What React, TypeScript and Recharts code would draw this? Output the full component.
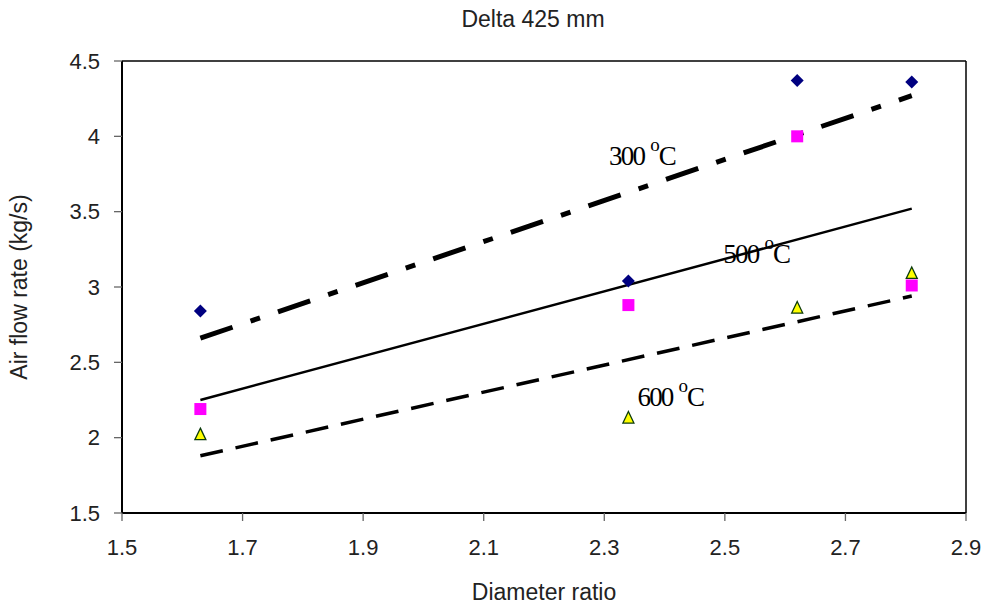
import React from 'react';
import {
  ComposedChart, XAxis, YAxis, Scatter, Line, ReferenceLine, ReferenceDot,
} from 'recharts';

const diameterRatio = [1.63, 2.34, 2.62, 2.81];
const flow300 = [2.84, 3.04, 4.37, 4.36];
const flow500 = [2.19, 2.88, 4.0, 3.01];
const flow600 = [2.02, 2.13, 2.86, 3.09];
const trendX = [1.63, 2.81];
const trend300 = [2.66, 4.27];
const trend500 = [2.25, 3.52];
const trend600 = [1.88, 2.94];
const xTicks = [1.5, 1.7, 1.9, 2.1, 2.3, 2.5, 2.7, 2.9];
const yTicks = [1.5, 2, 2.5, 3, 3.5, 4, 4.5];
const labelTemps = ['300', '500', '600'];
const labelX = [2.308, 2.4975, 2.355];
const labelY = [3.81, 3.16, 2.213];

const toPts = (xs: number[], ys: number[]) => xs.map((x, i) => ({ x, y: ys[i] }));

const pts300 = toPts(diameterRatio, flow300);
const pts500 = toPts(diameterRatio, flow500);
const pts600 = toPts(diameterRatio, flow600);
const line300 = toPts(trendX, trend300);
const line500 = toPts(trendX, trend500);
const line600 = toPts(trendX, trend600);

const Diamond = (p: any) => {
  const { cx, cy } = p;
  const s = 6.5;
  return <path d={`M${cx},${cy - s}L${cx + s},${cy}L${cx},${cy + s}L${cx - s},${cy}Z`} fill="#000080" />;
};
const Square = (p: any) => {
  const { cx, cy } = p;
  const s = 6;
  return <rect x={cx - s} y={cy - s} width={2 * s} height={2 * s} fill="#FF00FF" />;
};
const Triangle = (p: any) => {
  const { cx, cy } = p;
  return (
    <path
      d={`M${cx},${cy - 6.5}L${cx + 5.5},${cy + 5}L${cx - 5.5},${cy + 5}Z`}
      fill="#FFFF00"
      stroke="#0B3B0B"
      strokeWidth={1.3}
    />
  );
};

const TempLabel = ({ viewBox, t }: any) => {
  const x = viewBox?.x ?? 0;
  const y = viewBox?.y ?? 0;
  return (
    <text x={x} y={y} fontFamily="Liberation Serif" fontSize={27} fill="#000" letterSpacing={-1.8}>
      <tspan>{t}</tspan>
      <tspan dx={6} dy={-14} fontSize={19} letterSpacing={0}>o</tspan>
      <tspan dx={-1} dy={14} letterSpacing={0}>C</tspan>
    </text>
  );
};

const fontSans = 'Liberation Sans, Arial, sans-serif';

export default function App() {
  return (
    <div style={{ position: 'absolute', left: 0, top: 0, width: 988, height: 611, background: '#fff' }}>
      <div
        style={{
          position: 'absolute', left: 0, width: 1066, top: 5, textAlign: 'center',
          fontFamily: fontSans, fontSize: 23, color: '#222', lineHeight: '28px',
        }}
      >
        Delta 425 mm
      </div>
      <ComposedChart
        width={988}
        height={611}
        margin={{ top: 61, right: 22, bottom: 8, left: 52 }}
        style={{ position: 'absolute', left: 0, top: 0 }}
      >
        <XAxis
          dataKey="x"
          type="number"
          domain={[1.5, 2.9]}
          ticks={xTicks}
          allowDataOverflow
          height={90}
          tickSize={8}
          tickMargin={18}
          tick={{ fill: '#222', fontSize: 22, fontFamily: fontSans }}
          tickLine={{ stroke: '#666', strokeWidth: 1.3 }}
          axisLine={{ stroke: '#000', strokeWidth: 2 }}
          label={{ value: 'Diameter ratio', position: 'insideBottom', offset: 3, fill: '#222', fontSize: 23, fontFamily: fontSans }}
        />
        <YAxis
          type="number"
          domain={[1.5, 4.5]}
          ticks={yTicks}
          allowDataOverflow
          width={70}
          tickSize={8}
          tickMargin={14}
          tick={{ fill: '#222', fontSize: 22, fontFamily: fontSans }}
          tickLine={{ stroke: '#666', strokeWidth: 1.3 }}
          axisLine={{ stroke: '#000', strokeWidth: 2 }}
          label={{ value: 'Air flow rate (kg/s)', angle: -90, position: 'insideLeft', offset: -33, fill: '#222', fontSize: 23, fontFamily: fontSans, style: { textAnchor: 'middle' } }}
        />
        <ReferenceLine y={4.5} stroke="#000" strokeWidth={1.5} />
        <ReferenceLine x={2.9} stroke="#000" strokeWidth={1.5} />
        <Line data={line300} dataKey="y" type="linear" dot={false} activeDot={false} stroke="#000" strokeWidth={5} strokeDasharray="34 19 10 19" isAnimationActive={false} />
        <Line data={line500} dataKey="y" type="linear" dot={false} activeDot={false} stroke="#000" strokeWidth={2.5} isAnimationActive={false} />
        <Line data={line600} dataKey="y" type="linear" dot={false} activeDot={false} stroke="#000" strokeWidth={3.5} strokeDasharray="23 13" isAnimationActive={false} />
        <Scatter data={pts300} dataKey="y" shape={Diamond} isAnimationActive={false} />
        <Scatter data={pts500} dataKey="y" shape={Square} isAnimationActive={false} />
        <Scatter data={pts600} dataKey="y" shape={Triangle} isAnimationActive={false} />
        {labelTemps.map((t, i) => (
          <ReferenceDot
            key={t}
            x={labelX[i]}
            y={labelY[i]}
            r={0}
            fill="none"
            stroke="none"
            label={(props: any) => <TempLabel {...props} t={t} />}
          />
        ))}
      </ComposedChart>
    </div>
  );
}
